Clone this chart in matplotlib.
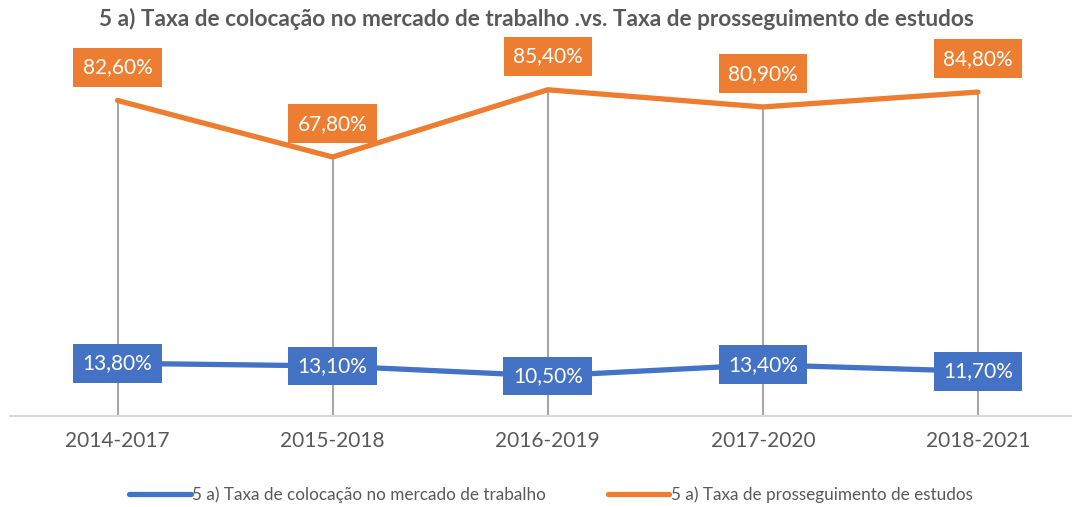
import matplotlib.pyplot as plt

plt.rcParams['font.family'] = ['Lato', 'DejaVu Sans']

# data
periods = ['2014-2017', '2015-2018', '2016-2019', '2017-2020', '2018-2021']
colocacao = [13.8, 13.1, 10.5, 13.4, 11.7]
prosseguimento = [82.6, 67.8, 85.4, 80.9, 84.8]
labels = ['5 a) Taxa de colocação no mercado de trabalho',
          '5 a) Taxa de prosseguimento de estudos']
title = '5 a) Taxa de colocação no mercado de trabalho .vs. Taxa de prosseguimento de estudos'

blue = '#4472C4'
orange = '#ED7D31'
grey = '#595959'

fig = plt.figure(figsize=(10.72, 5.07), dpi=100)
ax = fig.add_axes([10 / 1072, 91 / 507, 1062 / 1072, 382 / 507])

x = list(range(len(periods)))

# drop lines from the top series down to the axis
ax.vlines(x, 0, prosseguimento, color='#A6A6A6', lw=1.5, zorder=1)

ax.plot(x, colocacao, color=blue, lw=3.8, solid_capstyle='round', zorder=3, label=labels[0])
ax.plot(x, prosseguimento, color=orange, lw=3.8, solid_capstyle='round', zorder=3, label=labels[1])

def fmt(v):
    return f'{v:.2f}%'.replace('.', ',')

box = dict(boxstyle='square,pad=0.45', ec='none')
for xi, v in zip(x, colocacao):
    ax.annotate(fmt(v), (xi, v), ha='center', va='center', color='white', fontsize=15,
                bbox=dict(box, fc=blue), zorder=5)
for xi, v in zip(x, prosseguimento):
    ax.annotate(fmt(v), (xi, v), xytext=(0, 24), textcoords='offset points',
                ha='center', va='center', color='white', fontsize=15,
                bbox=dict(box, fc=orange), zorder=5)

ax.set_xlim(-0.5, (1072 - 118) / 215)
ax.set_ylim(0, 100)
ax.set_yticks([])
ax.set_xticks(x)
ax.set_xticklabels(periods, fontsize=15, color=grey)
ax.tick_params(axis='x', length=0, pad=11)
for s in ['top', 'right', 'left']:
    ax.spines[s].set_visible(False)
ax.spines['bottom'].set_color('#D9D9D9')
ax.spines['bottom'].set_linewidth(1.5)

fig.text(0.5, 0.962, title, ha='center', va='center', fontsize=16.3, fontweight='bold', color=grey)

fig.legend(loc='center', bbox_to_anchor=(0.514, 0.025), ncol=2, frameon=False,
           fontsize=12.3, labelcolor=grey, handlelength=3.6, handletextpad=0.1, columnspacing=3.6)

fig.savefig('out.png', dpi=100)
